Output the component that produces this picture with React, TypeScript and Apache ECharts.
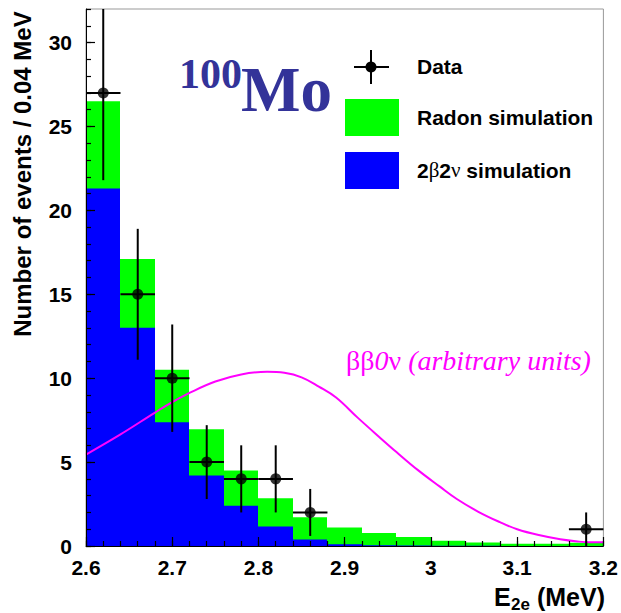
import React, { useEffect, useRef } from "react";
import * as echarts from "echarts";

// Histogram bins (lower edges, MeV), width 0.04 MeV
const binLow = [2.6, 2.64, 2.68, 2.72, 2.76, 2.8, 2.84, 2.88, 2.92, 2.96, 3.0, 3.04, 3.08, 3.12, 3.16];
const binWidth = 0.04;
// Total simulation (Radon + 2b2v), drawn green
const radonTotal = [26.5, 17.1, 10.5, 6.95, 4.5, 2.85, 1.72, 1.1, 0.78, 0.53, 0.32, 0.21, 0.14, 0.13, 0.2];
// 2b2v simulation, drawn blue
const twoNu = [21.3, 13.0, 7.38, 4.2, 2.4, 1.16, 0.38, 0.11, 0.05, 0.03, 0.02, 0.01, 0, 0, 0];

// Data points
const dataX = [2.62, 2.66, 2.7, 2.74, 2.78, 2.82, 2.86, 3.18];
const dataY = [27, 15, 10, 5, 4, 4, 2, 1];
const dataErr = [5.2, 3.9, 3.2, 2.2, 2.0, 2.0, 1.4, 1.0];

// bb0v curve (arbitrary units)
const curveX = [2.6, 2.64, 2.68, 2.7, 2.72, 2.75, 2.78, 2.81, 2.83, 2.85, 2.87, 2.89, 2.915, 2.94, 2.96, 2.985, 3.01, 3.03, 3.055, 3.08, 3.1, 3.125, 3.15, 3.17, 3.185, 3.2];
const curveY = [5.45, 6.65, 7.95, 8.57, 9.12, 9.8, 10.22, 10.38, 10.32, 10.05, 9.5, 8.85, 7.65, 6.5, 5.6, 4.52, 3.55, 2.8, 2.04, 1.42, 1.0, 0.65, 0.4, 0.27, 0.22, 0.22];

// Tick labels
const yTicks = [0, 5, 10, 15, 20, 25, 30];
const xTicks = [2.6, 2.7, 2.8, 2.9, 3.0, 3.1, 3.2];

const SANS = '"Liberation Sans", Arial, sans-serif';
const SERIF = '"Liberation Serif", "Times New Roman", serif';

export default function App() {
  const ref = useRef<HTMLDivElement>(null);
  useEffect(() => {
    if (!ref.current) return;
    const chart = echarts.init(ref.current, undefined, { renderer: "svg" });

    const greenData = binLow.map((x, i) => [x, x + binWidth, radonTotal[i]]);
    const blueData = binLow.map((x, i) => [x, x + binWidth, twoNu[i]]);
    const errData = dataX.map((x, i) => [x, dataY[i], dataErr[i]]);

    const axisLabelStyle = {
      color: "#000",
      fontFamily: SANS,
      fontWeight: "bold" as const,
      fontSize: 21,
    };

    const txt = (x: number, y: number, text: string, font: string, fill: string, align = "left") => ({
      type: "text",
      x,
      y,
      style: { text, font, fill, textAlign: align, textVerticalAlign: "middle", align, verticalAlign: "middle" },
    });

    const histRender = (color: string) => (params: any, api: any) => {
      const p0 = api.coord([api.value(0), 0]);
      const p1 = api.coord([api.value(1), api.value(2)]);
      const xa = Math.round(p0[0]);
      const xb = Math.round(p1[0]);
      return {
        type: "rect",
        shape: { x: xa, y: p1[1], width: xb - xa, height: p0[1] - p1[1] },
        style: { fill: color },
      };
    };

    const option: any = {
      animation: false,
      grid: {
        left: 86,
        right: 16,
        top: 9,
        bottom: 67,
        show: true,
        borderColor: "#999",
        borderWidth: 1,
        backgroundColor: "transparent",
      },
      xAxis: [
        {
          type: "value",
          min: 2.6,
          max: 3.2,
          interval: 0.02,
          position: "bottom",
          z: 10,
          axisLine: { show: true, onZero: false, lineStyle: { color: "#000", width: 1 } },
          axisTick: { show: true, inside: true, length: 5, lineStyle: { color: "#000", width: 1.2 } },
          axisLabel: { show: false },
          splitLine: { show: false },
        },
        {
          type: "value",
          min: 2.6,
          max: 3.2,
          interval: 0.1,
          position: "bottom",
          z: 10,
          axisLine: { show: false, onZero: false },
          axisTick: { show: true, inside: true, length: 9, lineStyle: { color: "#000", width: 1.2 }, customValues: xTicks },
          axisLabel: {
            ...axisLabelStyle,
            margin: 11,
            customValues: xTicks,
            formatter: (v: number) => String(Math.round(v * 10) / 10),
          },
          splitLine: { show: false },
        },
      ],
      yAxis: [
        {
          type: "value",
          min: 0,
          max: 32,
          interval: 1,
          position: "left",
          z: 10,
          axisLine: { show: true, onZero: false, lineStyle: { color: "#000", width: 1 } },
          axisTick: { show: true, inside: true, length: 5, lineStyle: { color: "#000", width: 1.2 } },
          axisLabel: { show: false },
          splitLine: { show: false },
        },
        {
          type: "value",
          min: 0,
          max: 32,
          interval: 5,
          position: "left",
          z: 10,
          axisLine: { show: false, onZero: false },
          axisTick: { show: true, inside: true, length: 9, lineStyle: { color: "#000", width: 1.2 }, customValues: yTicks },
          axisLabel: { ...axisLabelStyle, margin: 14, customValues: yTicks },
          splitLine: { show: false },
        },
      ],
      series: [
        {
          type: "custom",
          name: "Radon simulation",
          xAxisIndex: 0,
          yAxisIndex: 0,
          z: 1,
          clip: true,
          data: greenData,
          encode: { x: [0, 1], y: 2 },
          renderItem: histRender("#00ff00"),
        },
        {
          type: "custom",
          name: "2b2v simulation",
          xAxisIndex: 0,
          yAxisIndex: 0,
          z: 2,
          clip: true,
          data: blueData,
          encode: { x: [0, 1], y: 2 },
          renderItem: histRender("#0000ff"),
        },
        {
          type: "line",
          name: "bb0v",
          xAxisIndex: 0,
          yAxisIndex: 0,
          z: 3,
          smooth: 0.4,
          showSymbol: false,
          data: curveX.map((x, i) => [x, curveY[i]]),
          lineStyle: { color: "#ff00ff", width: 2 },
        },
        {
          type: "custom",
          name: "errors",
          xAxisIndex: 0,
          yAxisIndex: 0,
          z: 4,
          clip: true,
          data: errData,
          encode: { x: 0, y: 1 },
          renderItem: (params: any, api: any) => {
            const x = api.value(0);
            const y = api.value(1);
            const e = api.value(2);
            const top = api.coord([x, y + e]);
            const bot = api.coord([x, y - e]);
            const l = api.coord([x - binWidth / 2, y]);
            const r = api.coord([x + binWidth / 2, y]);
            const st = { stroke: "#000", lineWidth: 2 };
            return {
              type: "group",
              children: [
                { type: "line", shape: { x1: top[0], y1: top[1], x2: bot[0], y2: bot[1] }, style: st },
                { type: "line", shape: { x1: l[0], y1: l[1], x2: r[0], y2: r[1] }, style: st },
              ],
            };
          },
        },
        {
          type: "scatter",
          name: "Data",
          xAxisIndex: 0,
          yAxisIndex: 0,
          z: 5,
          symbol: "circle",
          symbolSize: 11,
          itemStyle: { color: "#000" },
          data: dataX.map((x, i) => [x, dataY[i]]),
        },
      ],
      graphic: [
        {
          type: "text",
          x: 22,
          y: 174,
          rotation: Math.PI / 2,
          style: {
            text: "Number of events / 0.04 MeV",
            font: `bold 24px ${SANS}`,
            fill: "#000",
            textAlign: "center",
            textVerticalAlign: "middle",
            align: "center",
            verticalAlign: "middle",
          },
        },
        txt(494, 597, "E", `bold 25px ${SANS}`, "#000"),
        txt(511, 604, "2e", `bold 17px ${SANS}`, "#000"),
        txt(605, 597, "(MeV)", `bold 25px ${SANS}`, "#000", "right"),
        txt(179, 74, "100", `bold 42px ${SERIF}`, "#333399"),
        txt(241, 90, "Mo", `bold 63px ${SERIF}`, "#333399"),
        // Legend
        { type: "line", shape: { x1: 354, y1: 67, x2: 389, y2: 67 }, style: { stroke: "#000", lineWidth: 2 } },
        { type: "line", shape: { x1: 371, y1: 50, x2: 371, y2: 84 }, style: { stroke: "#000", lineWidth: 2 } },
        { type: "circle", shape: { cx: 371, cy: 67, r: 5.5 }, style: { fill: "#000" } },
        { type: "rect", shape: { x: 345, y: 99, width: 54, height: 37 }, style: { fill: "#00ff00" } },
        { type: "rect", shape: { x: 345, y: 152, width: 54, height: 37 }, style: { fill: "#0000ff" } },
        txt(417, 66, "Data", `bold 21px ${SANS}`, "#000"),
        txt(417, 117, "Radon simulation", `bold 21px ${SANS}`, "#000"),
        {
          type: "text",
          x: 417,
          y: 170,
          style: {
            text: "{a|2}{g|β}{a|2}{g|ν}{a| simulation}",
            fill: "#000",
            textAlign: "left",
            textVerticalAlign: "middle",
            align: "left",
            verticalAlign: "middle",
            rich: {
              a: { font: `bold 21px ${SANS}`, fill: "#000" },
              g: { font: `21px ${SERIF}`, fill: "#000" },
            },
          },
        },
        {
          type: "text",
          x: 346,
          y: 360,
          style: {
            text: "{u|ββ}{i|0}{u|ν}{i| (arbitrary units)}",
            fill: "#ff00ff",
            textAlign: "left",
            textVerticalAlign: "middle",
            align: "left",
            verticalAlign: "middle",
            rich: {
              u: { font: `28px ${SERIF}`, fill: "#ff00ff" },
              i: { font: `italic 28px ${SERIF}`, fill: "#ff00ff" },
            },
          },
        },
      ],
    };

    chart.setOption(option);
    return () => chart.dispose();
  }, []);

  return (
    <div
      ref={ref}
      style={{ position: "absolute", left: 0, top: 0, width: 621, height: 613, background: "#fff" }}
    />
  );
}
